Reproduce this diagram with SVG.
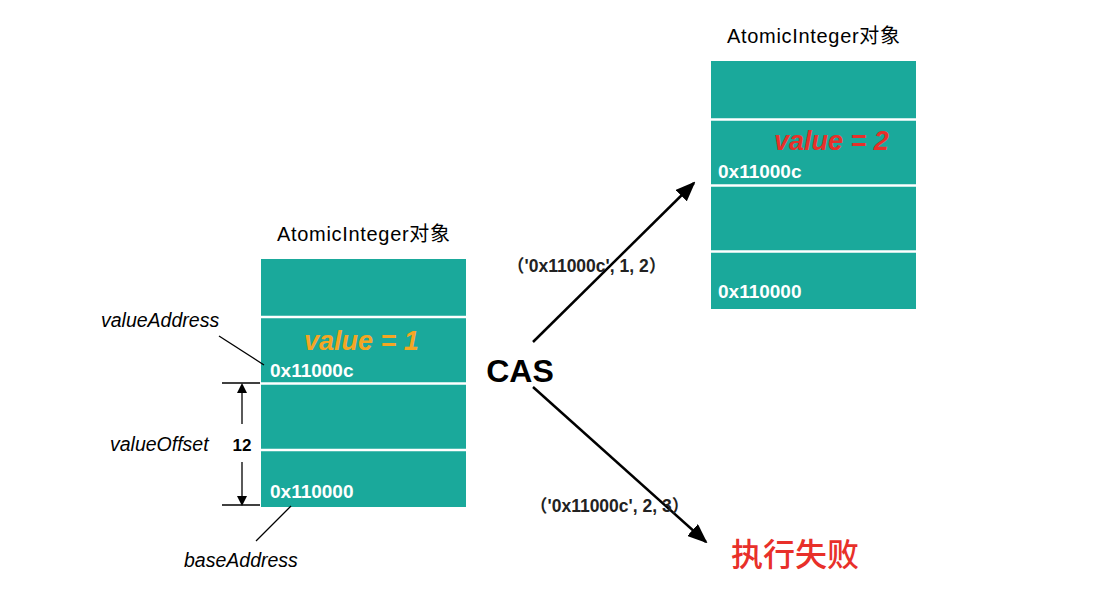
<svg xmlns="http://www.w3.org/2000/svg" width="1108" height="616" viewBox="0 0 1108 616">
<style>
.box{fill:#1AA99B}
.sep{stroke:#fff;stroke-width:2.5}
.title{font-family:"Liberation Sans","Noto Sans CJK SC",sans-serif;font-size:20px;fill:#000}
.addr{font-family:"Liberation Sans",sans-serif;font-size:19px;font-weight:bold;fill:#fff}
.val{font-family:"Liberation Sans",sans-serif;font-size:27px;font-weight:bold;font-style:italic}
.lab{font-family:"Liberation Sans",sans-serif;font-size:19.5px;font-style:italic;fill:#000}
.args{font-family:"Liberation Sans","Noto Sans CJK SC",sans-serif;font-size:17.5px;font-weight:bold;fill:#222}
.ln{stroke:#000;stroke-width:1.3;fill:none}
.arr{stroke:#000;stroke-width:2.5;fill:none}
</style>
<defs>
<marker id="ah" markerWidth="10" markerHeight="10" refX="8" refY="5" orient="auto" markerUnits="userSpaceOnUse" viewBox="0 0 10 10">
<path d="M0,0 L10,5 L0,10 z" fill="#000"/>
</marker>
<marker id="big" markerWidth="20" markerHeight="16" refX="18" refY="8" orient="auto" markerUnits="userSpaceOnUse" viewBox="0 0 20 16">
<path d="M0,0 L20,8 L0,16 z" fill="#000"/>
</marker>
</defs>

<g id="left-object">
<text class="title" x="277" y="241" textLength="173">AtomicInteger对象</text>
<rect class="box" x="261" y="259" width="205" height="248"/>
<line class="sep" x1="261" y1="317" x2="466" y2="317"/>
<line class="sep" x1="261" y1="383.5" x2="466" y2="383.5"/>
<line class="sep" x1="261" y1="450" x2="466" y2="450"/>
<text class="val" x="304" y="350" fill="#F5A623">value = 1</text>
<text class="addr" x="270" y="377">0x11000c</text>
<text class="addr" x="270" y="498">0x110000</text>
</g>

<g id="right-object">
<text class="title" x="727" y="43" textLength="173">AtomicInteger对象</text>
<rect class="box" x="711" y="61" width="205" height="248"/>
<line class="sep" x1="711" y1="119.5" x2="916" y2="119.5"/>
<line class="sep" x1="711" y1="185.5" x2="916" y2="185.5"/>
<line class="sep" x1="711" y1="251.5" x2="916" y2="251.5"/>
<text class="val" x="774" y="150" fill="#E8302A">value = 2</text>
<text class="addr" x="718" y="178">0x11000c</text>
<text class="addr" x="718" y="298">0x110000</text>
</g>

<g id="annotations">
<text class="lab" x="101" y="327">valueAddress</text>
<text class="lab" x="110" y="451">valueOffset</text>
<text class="lab" x="184" y="567">baseAddress</text>
<text x="242" y="451" text-anchor="middle" font-family="'Liberation Sans',sans-serif" font-size="17" font-weight="bold" fill="#000">12</text>
</g>

<g id="cas">
<text x="520" y="382" text-anchor="middle" font-family="'Liberation Sans',sans-serif" font-size="32" font-weight="bold" fill="#000">CAS</text>
</g>

<g id="fail">
<text x="731" y="566" font-family="'Noto Sans CJK SC',sans-serif" font-size="32" font-weight="500" fill="#E8302A">执行失败</text>
</g>

<g id="connectors">
<line class="ln" x1="219" y1="336" x2="264" y2="365"/>
<line class="ln" x1="256" y1="541" x2="291" y2="506"/>
<line class="ln" x1="222" y1="383" x2="260" y2="383"/>
<line class="ln" x1="222" y1="505" x2="260" y2="505"/>
<line class="ln" x1="242" y1="424" x2="242" y2="385" marker-end="url(#ah)"/>
<line class="ln" x1="242" y1="462" x2="242" y2="504" marker-end="url(#ah)"/>
<line class="arr" x1="533" y1="342" x2="694" y2="183" marker-end="url(#big)"/>
<line class="arr" x1="533" y1="387" x2="706" y2="542" marker-end="url(#big)"/>
<text class="args" x="507" y="272">（'0x11000c', 1, 2）</text>
<text class="args" x="530" y="512">（'0x11000c', 2, 3）</text>
</g>
</svg>
